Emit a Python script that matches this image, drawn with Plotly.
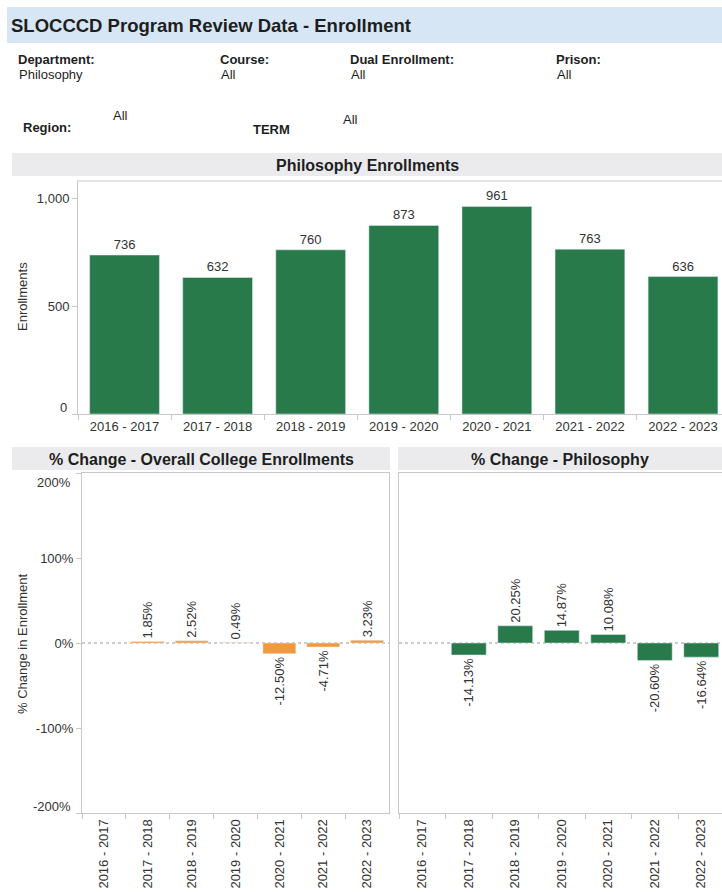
import plotly.graph_objects as go

years = ["2016 - 2017", "2017 - 2018", "2018 - 2019", "2019 - 2020",
         "2020 - 2021", "2021 - 2022", "2022 - 2023"]
enrollments = [736, 632, 760, 873, 961, 763, 636]
college_pct = [None, 1.85, 2.52, 0.49, -12.50, -4.71, 3.23]
philosophy_pct = [None, -14.13, 20.25, 14.87, 10.08, -20.60, -16.64]
pct_ticks = [-200, -100, 0, 100, 200]
enr_ticks = [0, 500, 1000]

filters = [("Department:", "Philosophy"), ("Course:", "All"),
           ("Dual Enrollment:", "All"), ("Prison:", "All")]

W, H = 722, 892
GREEN = "#287A4B"
ORANGE = "#F0993F"
LINE = "#c8c8c8"
TXT = "#333333"
DARK = "#1e1e1e"
FONT = "Liberation Sans, Arial, sans-serif"


def px(x):
    return x / W


def py(y):
    return 1 - y / H


fig = go.Figure()

fig.add_trace(go.Bar(x=years, y=enrollments, marker_color=GREEN, xaxis="x", yaxis="y",
                     text=[f"{v}" for v in enrollments], textposition="outside",
                     textfont=dict(size=13, color=TXT), cliponaxis=False, width=0.75,
                     constraintext="none"))
fig.add_trace(go.Bar(x=years, y=college_pct, marker_color=ORANGE, xaxis="x2", yaxis="y2",
                     text=[None if v is None else f"{v:.2f}%" for v in college_pct],
                     textposition="outside", textangle=-90, constraintext="none",
                     textfont=dict(size=13, color=TXT), cliponaxis=False, width=0.75))
fig.add_trace(go.Bar(x=years, y=philosophy_pct, marker_color=GREEN, xaxis="x3", yaxis="y3",
                     text=[None if v is None else f"{v:.2f}%" for v in philosophy_pct],
                     textposition="outside", textangle=-90, constraintext="none",
                     textfont=dict(size=13, color=TXT), cliponaxis=False, width=0.75))

axis_common = dict(showgrid=False, zeroline=False, linecolor=LINE, linewidth=1,
                   tickfont=dict(size=13, color=TXT), fixedrange=True)


def fmt_enr(v):
    return f"{v:,}"


def fmt_pct(v):
    return f"{v}%"


# Edge labels are drawn nudged inward (as in the reference), middle ones by the axis
enr_text = ["" if v == min(enr_ticks) else fmt_enr(v) for v in enr_ticks]
pct_text = ["" if v in (min(pct_ticks), max(pct_ticks)) else fmt_pct(v) for v in pct_ticks]

layout = dict(
    width=W, height=H, margin=dict(l=0, r=0, t=0, b=0),
    paper_bgcolor="white", plot_bgcolor="white", showlegend=False,
    font=dict(family=FONT, color=TXT),
    xaxis=dict(domain=[px(78), 1.0], anchor="y", range=[-0.5, -0.5 + 644 / 93.08],
               showline=True, mirror=False, ticks="outside", tickson="boundaries",
               ticklen=5, tickcolor=LINE, **axis_common),
    yaxis=dict(domain=[py(414), py(181)], anchor="x", range=[0, 1078.7],
               tickvals=enr_ticks, ticktext=enr_text, showline=True,
               ticks="outside", ticklen=5, tickcolor=LINE, **axis_common),
    xaxis2=dict(domain=[px(82), px(389)], anchor="y2", range=[-0.5, 6.5],
                showline=True, mirror=True, ticks="outside", tickson="boundaries",
                ticklen=5, tickcolor=LINE, tickangle=-90, **axis_common),
    yaxis2=dict(domain=[py(813), py(473)], anchor="x2", range=[-200, 200],
                tickvals=pct_ticks, ticktext=pct_text, showline=True,
                mirror=True, ticks="outside", ticklen=5, tickcolor=LINE, **axis_common),
    xaxis3=dict(domain=[px(399), 1.0], anchor="y3", range=[-0.5, -0.5 + 323 / 46.5],
                showline=True, mirror=True, ticks="outside", tickson="boundaries",
                ticklen=5, tickcolor=LINE, tickangle=-90, **axis_common),
    yaxis3=dict(domain=[py(813), py(473)], anchor="x3", range=[-200, 200],
                showticklabels=False, showline=True, mirror=False, ticks="", **axis_common),
)
fig.update_layout(**layout)

shapes = []
annotations = []

# Nudged edge tick labels
annotations.append(dict(text=fmt_enr(min(enr_ticks)), xref="paper", yref="y", x=px(69),
                        y=min(enr_ticks), yshift=7, xanchor="right", yanchor="middle",
                        showarrow=False, font=dict(size=13, color=TXT)))
annotations.append(dict(text=fmt_pct(max(pct_ticks)), xref="paper", yref="y2", x=px(73),
                        y=max(pct_ticks), yshift=-9, xanchor="right", yanchor="middle",
                        showarrow=False, font=dict(size=13, color=TXT)))
annotations.append(dict(text=fmt_pct(min(pct_ticks)), xref="paper", yref="y2", x=px(73),
                        y=min(pct_ticks), yshift=7, xanchor="right", yanchor="middle",
                        showarrow=False, font=dict(size=13, color=TXT)))

# Title bar
shapes.append(dict(type="rect", xref="paper", yref="paper", x0=px(7), x1=1.0,
                   y0=py(43), y1=py(7), fillcolor="#d6e6f4", line=dict(width=0), layer="below"))
annotations.append(dict(text="<b>SLOCCCD Program Review Data - Enrollment</b>", xref="paper",
                        yref="paper", x=px(9), y=py(25), xanchor="left", yanchor="middle",
                        showarrow=False, font=dict(size=18.5, color=DARK)))

# Filters
fx = [16, 218, 348, 554]
for (lab, val), x in zip(filters, fx):
    annotations.append(dict(text=f"<b>{lab}</b>", xref="paper", yref="paper", x=px(x), y=py(60),
                            xanchor="left", yanchor="middle", showarrow=False,
                            font=dict(size=13, color=DARK)))
    annotations.append(dict(text=val, xref="paper", yref="paper", x=px(x + 1), y=py(75),
                            xanchor="left", yanchor="middle", showarrow=False,
                            font=dict(size=13, color=DARK)))
annotations.append(dict(text="<b>Region:</b>", xref="paper", yref="paper", x=px(21), y=py(128),
                        xanchor="left", yanchor="middle", showarrow=False,
                        font=dict(size=13, color=DARK)))
annotations.append(dict(text="All", xref="paper", yref="paper", x=px(111), y=py(116),
                        xanchor="left", yanchor="middle", showarrow=False,
                        font=dict(size=13, color=DARK)))
annotations.append(dict(text="<b>TERM</b>", xref="paper", yref="paper", x=px(251), y=py(129),
                        xanchor="left", yanchor="middle", showarrow=False,
                        font=dict(size=13, color=DARK)))
annotations.append(dict(text="All", xref="paper", yref="paper", x=px(341), y=py(120),
                        xanchor="left", yanchor="middle", showarrow=False,
                        font=dict(size=13, color=DARK)))

# Section headers
headers = [(12, 722, 153, 176, "Philosophy Enrollments"),
           (12, 390, 447, 470, "% Change - Overall College Enrollments"),
           (398, 722, 447, 470, "% Change - Philosophy")]
for x0, x1, y0, y1, t in headers:
    shapes.append(dict(type="rect", xref="paper", yref="paper", x0=px(x0), x1=px(x1),
                       y0=py(y1), y1=py(y0), fillcolor="#ebebee", line=dict(width=0),
                       layer="below"))
    annotations.append(dict(text=f"<b>{t}</b>", xref="paper", yref="paper",
                            x=px((x0 + x1) / 2), y=py((y0 + y1) / 2 + 0.5), xanchor="center",
                            yanchor="middle", showarrow=False,
                            font=dict(size=16, color=DARK)))

# Top border line of top chart
shapes.append(dict(type="line", xref="paper", yref="paper", x0=px(77), x1=1.0,
                   y0=py(181), y1=py(181), line=dict(color=LINE, width=1)))

# Zero dashed lines
for xr, yr in [("x2", "y2"), ("x3", "y3")]:
    shapes.append(dict(type="line", xref=f"{xr} domain", yref=yr, x0=0, x1=1, y0=0, y1=0,
                       line=dict(color="#999999", width=1, dash="dot"), layer="below"))

# Axis titles
annotations.append(dict(text="Enrollments", xref="paper", yref="paper", x=px(22), y=py(297),
                        textangle=-90, xanchor="center", yanchor="middle", showarrow=False,
                        font=dict(size=13, color=TXT)))
annotations.append(dict(text="% Change in Enrollment", xref="paper", yref="paper", x=px(22),
                        y=py(644), textangle=-90, xanchor="center", yanchor="middle",
                        showarrow=False, font=dict(size=13, color=TXT)))

fig.update_layout(shapes=shapes, annotations=annotations)

fig.write_html("out.html")
